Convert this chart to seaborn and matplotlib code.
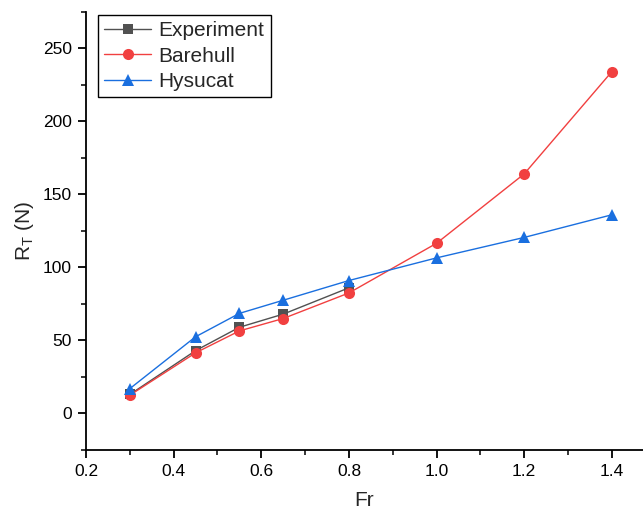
import matplotlib
matplotlib.use("Agg")
import matplotlib.pyplot as plt
from matplotlib.ticker import MultipleLocator, AutoMinorLocator
import seaborn as sns
import pandas as pd

# Data
fr_exp = [0.3, 0.45, 0.55, 0.65, 0.8]
rt_exp = [13.0, 43.0, 59.0, 68.0, 86.0]

fr_sim = [0.3, 0.45, 0.55, 0.65, 0.8, 1.0, 1.2, 1.4]
rt_barehull = [12.5, 41.5, 56.5, 65.0, 82.5, 116.5, 164.0, 234.0]
rt_hysucat = [17.0, 52.5, 68.5, 77.5, 91.0, 106.5, 120.5, 136.0]

series_names = ["Experiment", "Barehull", "Hysucat"]

rows = []
for f, r in zip(fr_exp, rt_exp):
    rows.append({"Fr": f, "RT": r, "case": "Experiment"})
for f, r in zip(fr_sim, rt_barehull):
    rows.append({"Fr": f, "RT": r, "case": "Barehull"})
for f, r in zip(fr_sim, rt_hysucat):
    rows.append({"Fr": f, "RT": r, "case": "Hysucat"})
plot_df = pd.DataFrame(rows)

# Plot configuration
sns.set_style("ticks")
plt.rcParams['font.family'] = ['Liberation Sans', 'DejaVu Sans']
plt.rcParams['mathtext.fontset'] = 'custom'
plt.rcParams['mathtext.rm'] = 'Liberation Sans'
plt.rcParams['mathtext.it'] = 'Liberation Sans'

palette = {"Experiment": "#515151", "Barehull": "#F14040", "Hysucat": "#1A6FDF"}
markers = {"Experiment": "s", "Barehull": "o", "Hysucat": "^"}
msizes = {"Experiment": 7, "Barehull": 8, "Hysucat": 8.5}

fig = plt.figure(figsize=(6.43, 5.13), dpi=100)
ax = fig.add_axes([86 / 643, 63 / 513, 557 / 643, 438.3 / 513])

for name in series_names:
    sub = plot_df[plot_df["case"] == name]
    sns.lineplot(data=sub, x="Fr", y="RT", ax=ax, color=palette[name],
                 marker=markers[name], markersize=msizes[name],
                 markeredgewidth=0, linewidth=1.0, label=name,
                 estimator=None, sort=False)

ax.set_xlim(0.2, 1.471)
ax.set_ylim(-25, 275)
ax.xaxis.set_minor_locator(AutoMinorLocator(2))
ax.yaxis.set_major_locator(MultipleLocator(50))
ax.yaxis.set_minor_locator(AutoMinorLocator(2))
ax.set_xticks([0.2, 0.4, 0.6, 0.8, 1.0, 1.2, 1.4])
ax.set_xticklabels(["0.2", "0.4", "0.6", "0.8", "1.0", "1.2", "1.4"])

sns.despine(ax=ax)
for side in ["left", "bottom"]:
    ax.spines[side].set_linewidth(1.3)
    ax.spines[side].set_color("black")
ax.tick_params(axis='both', which='major', direction='out', length=6, width=1.3,
               labelsize=12.5, colors='black', pad=4)
ax.tick_params(axis='both', which='minor', direction='out', length=3.5, width=1.3)

ax.set_xlabel("Fr", fontsize=15, labelpad=9)
ax.set_ylabel(r"R$_\mathrm{T}$ (N)", fontsize=15, labelpad=5)

leg = ax.legend(loc='upper left', bbox_to_anchor=(0.0215, 0.992), fontsize=15,
                frameon=True, fancybox=False, edgecolor='black', framealpha=1,
                handlelength=2.25, handletextpad=0.35, borderpad=0.3,
                labelspacing=0.3, borderaxespad=0.0)
leg.get_frame().set_linewidth(1.0)

fig.savefig("out.png", dpi=100)
